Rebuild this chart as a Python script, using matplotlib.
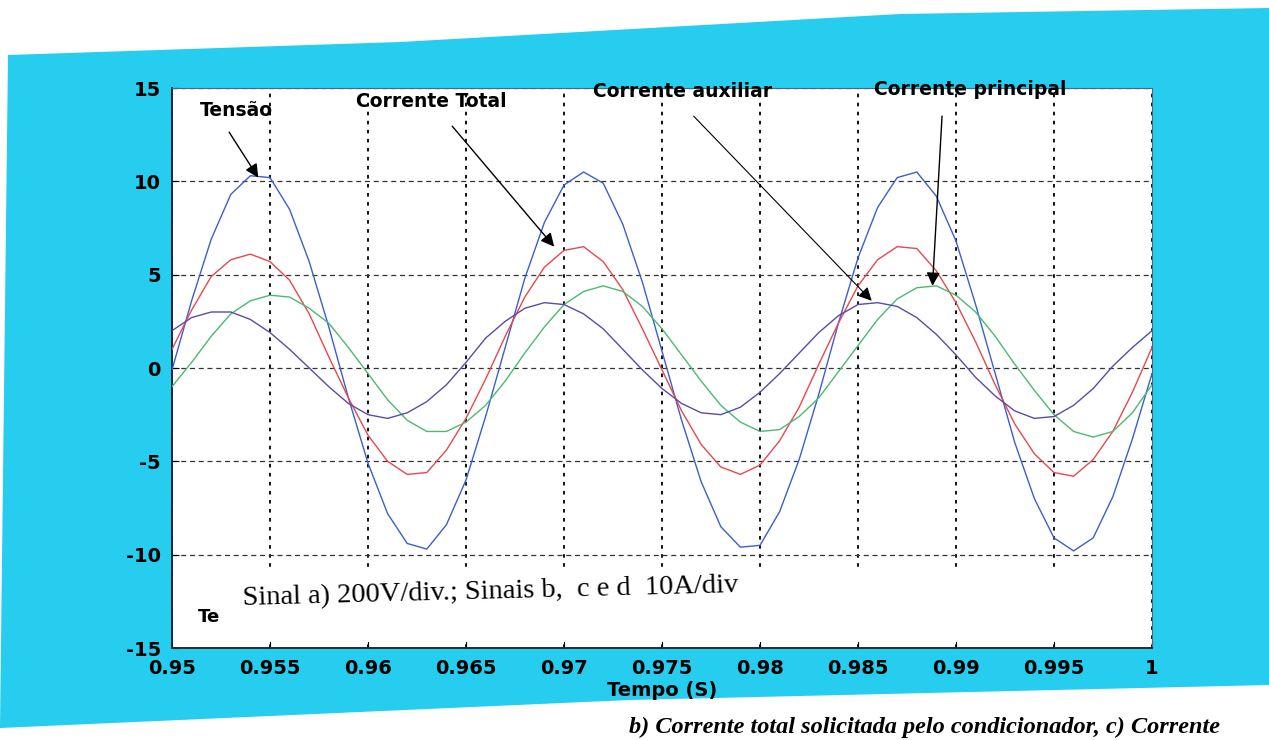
import numpy as np
import matplotlib.pyplot as plt
from matplotlib.patches import Polygon, Rectangle

# tempo (s), amostras a cada 1 ms
tempo = [0.950, 0.951, 0.952, 0.953, 0.954, 0.955, 0.956, 0.957, 0.958, 0.959,
         0.960, 0.961, 0.962, 0.963, 0.964, 0.965, 0.966, 0.967, 0.968, 0.969,
         0.970, 0.971, 0.972, 0.973, 0.974, 0.975, 0.976, 0.977, 0.978, 0.979,
         0.980, 0.981, 0.982, 0.983, 0.984, 0.985, 0.986, 0.987, 0.988, 0.989,
         0.990, 0.991, 0.992, 0.993, 0.994, 0.995, 0.996, 0.997, 0.998, 0.999,
         1.000]

# a) tensao (200 V/div)
tensao = [-0.1, 3.6, 6.9, 9.3, 10.3, 10.2, 8.5, 5.7, 2.2, -1.6,
          -5.1, -7.8, -9.4, -9.7, -8.4, -6.0, -2.6, 1.1, 4.8, 7.8,
          9.8, 10.5, 9.9, 7.7, 4.6, 0.9, -2.8, -6.1, -8.5, -9.6,
          -9.5, -7.7, -4.9, -1.4, 2.4, 5.9, 8.6, 10.2, 10.5, 9.2,
          6.8, 3.4, -0.3, -4.0, -7.0, -9.1, -9.8, -9.1, -6.9, -3.8,
          -0.3]

# b) corrente total (10 A/div)
corrente_total = [1.0, 3.1, 4.9, 5.8, 6.1, 5.7, 4.7, 2.9, 0.6, -1.6,
                  -3.6, -5.0, -5.7, -5.6, -4.4, -2.7, -0.6, 1.7, 3.8, 5.4,
                  6.3, 6.5, 5.7, 4.2, 2.1, -0.1, -2.3, -4.1, -5.3, -5.7,
                  -5.2, -3.9, -2.1, 0.2, 2.4, 4.4, 5.8, 6.5, 6.4, 5.2,
                  3.5, 1.4, -0.9, -3.0, -4.6, -5.6, -5.8, -4.9, -3.4, -1.3,
                  1.1]

# c) corrente auxiliar
corrente_auxiliar = [2.0, 2.7, 3.0, 3.0, 2.6, 1.9, 1.0, 0.0, -1.0, -1.9,
                     -2.5, -2.7, -2.4, -1.8, -0.9, 0.3, 1.6, 2.5, 3.2, 3.5,
                     3.4, 2.9, 2.1, 1.0, -0.1, -1.1, -1.9, -2.4, -2.5, -2.1,
                     -1.3, -0.3, 0.8, 1.9, 2.8, 3.4, 3.5, 3.3, 2.7, 1.8,
                     0.7, -0.5, -1.5, -2.3, -2.7, -2.6, -2.0, -1.1, 0.1, 1.1,
                     2.0]

# d) corrente principal
corrente_principal = [-1.0, 0.3, 1.7, 2.9, 3.6, 3.9, 3.8, 3.2, 2.4, 1.1,
                      -0.3, -1.7, -2.8, -3.4, -3.4, -2.9, -2.0, -0.7, 0.8, 2.2,
                      3.4, 4.1, 4.4, 4.1, 3.3, 2.1, 0.7, -0.7, -2.0, -2.9,
                      -3.4, -3.3, -2.6, -1.6, -0.2, 1.2, 2.6, 3.7, 4.3, 4.4,
                      3.9, 3.0, 1.7, 0.2, -1.2, -2.5, -3.4, -3.7, -3.4, -2.4,
                      -0.9]

xticks = [0.95, 0.955, 0.96, 0.965, 0.97, 0.975, 0.98, 0.985, 0.99, 0.995, 1.0]
xtick_labels = ['0.95', '0.955', '0.96', '0.965', '0.97', '0.975', '0.98',
                '0.985', '0.99', '0.995', '1']
yticks = [-15, -10, -5, 0, 5, 10, 15]

W, H = 1269, 740
plt.rcParams['font.family'] = ['DejaVu Sans']
plt.rcParams['axes.unicode_minus'] = False
serif = ['Liberation Serif', 'DejaVu Serif']

fig = plt.figure(figsize=(W / 100, H / 100), dpi=100, facecolor='white')

# fundo ciano da foto (em pixels -> fracao da figura)
ciano = [(8, 55), (400, 42), (900, 14), (1269, 8), (1269, 685), (630, 700), (0, 728)]
fig.patches.append(Polygon([(x / W, 1 - y / H) for x, y in ciano], closed=True,
                           transform=fig.transFigure, facecolor='#27cdee',
                           edgecolor='none', zorder=-5))

ax = fig.add_axes([172 / W, 1 - 648 / H, (1152 - 172) / W, (648 - 88) / H])
ax.set_zorder(2)
ax.set_facecolor('white')

ax.plot(tempo, tensao, color='#3a5fcd', lw=1.0, zorder=3)
ax.plot(tempo, corrente_total, color='#e8474f', lw=1.0, zorder=3)
ax.plot(tempo, corrente_principal, color='#4cba6e', lw=1.0, zorder=3)
ax.plot(tempo, corrente_auxiliar, color='#5b4aa8', lw=1.0, zorder=3)

ax.set_xlim(0.95, 1.0)
ax.set_ylim(-15, 15)
ax.set_xticks(xticks)
ax.set_xticklabels(xtick_labels)
ax.set_yticks(yticks)
ax.tick_params(direction='in', length=5, labelsize=14, pad=8)
for lab in ax.get_xticklabels() + ax.get_yticklabels():
    lab.set_fontweight('bold')

ax.xaxis.grid(True, color='black', linestyle=(0, (2, 3)), lw=1.3)
ax.yaxis.grid(True, color='#333333', linestyle=(0, (4, 3)), lw=0.9)
ax.set_axisbelow(True)

for s in ['left', 'bottom']:
    ax.spines[s].set_linewidth(1.4)
    ax.spines[s].set_color('#1a2a3a')
for s in ['top', 'right']:
    ax.spines[s].set_linewidth(0.8)
    ax.spines[s].set_color('#4a6a7a')

# faixa branca colada sobre a parte de baixo do grafico
ax.add_patch(Rectangle((0.9502, -14.7), 0.0496, 3.9, facecolor='white',
                       edgecolor='none', zorder=1))

ax.set_xlabel('Tempo (S)', fontsize=14, fontweight='bold', labelpad=2)

ax.text(0.9513, -13.6, 'Te', fontsize=13, fontweight='bold', zorder=4)
ax.text(0.9536, -12.7, 'Sinal a) 200V/div.; Sinais b,  c e d  10A/div',
        fontsize=20.5, family=serif, rotation=1.5, zorder=4)

seta = dict(arrowstyle='-|>', color='black', lw=1.0, mutation_scale=20)
txt = dict(fontsize=13.5, fontweight='bold', zorder=5)
ax.annotate('Tensão', xy=(0.9544, 10.2), xytext=(0.9514, 13.5),
            arrowprops=dict(seta, shrinkA=8, shrinkB=0, relpos=(0.3, 0.0)), **txt)
ax.annotate('Corrente Total', xy=(0.9695, 6.5), xytext=(0.9594, 14.0),
            arrowprops=dict(seta, shrinkA=12, shrinkB=0, relpos=(0.55, 0.0)), **txt)
ax.annotate('Corrente auxiliar', xy=(0.9857, 3.6), xytext=(0.9715, 14.5),
            arrowprops=dict(seta, lw=0.8, shrinkA=12, shrinkB=0, relpos=(0.48, 0.0)), **txt)
ax.annotate('Corrente principal', xy=(0.9888, 4.4), xytext=(0.9858, 14.6),
            arrowprops=dict(seta, shrinkA=10, shrinkB=0, relpos=(0.36, 0.0)), **txt)

# legenda da figura, na borda de baixo da foto
fig.text(1220 / W, 1 - 738 / H,
         'b) Corrente total solicitada pelo condicionador, c) Corrente',
         ha='right', va='bottom', fontsize=17.5, fontstyle='italic', fontweight='bold',
         family=serif)

fig.savefig('out.png', dpi=100, facecolor=fig.get_facecolor())
